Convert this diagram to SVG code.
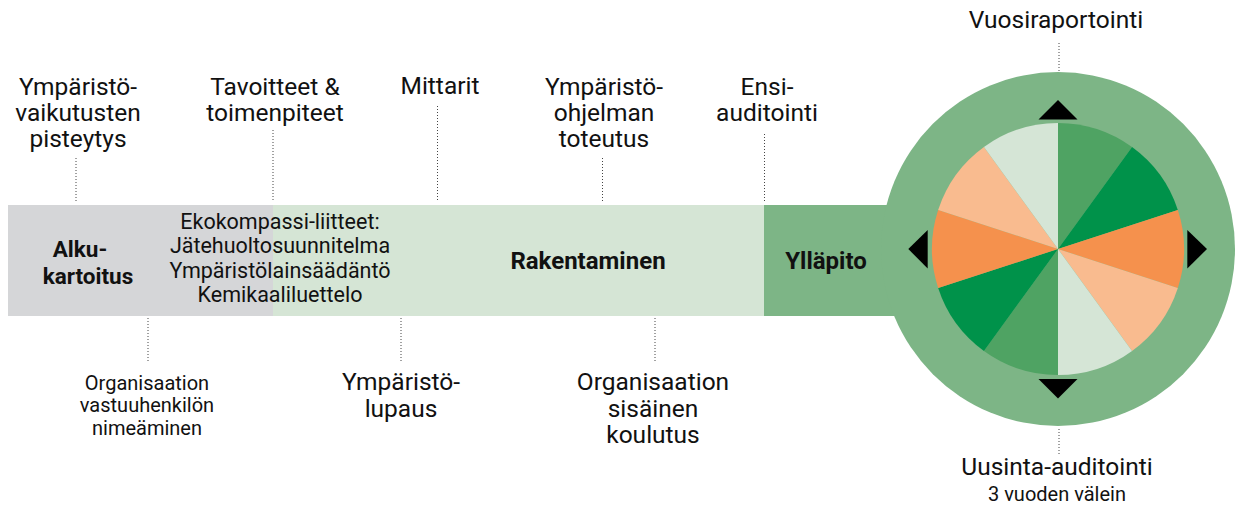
<svg xmlns="http://www.w3.org/2000/svg" width="1241" height="506" viewBox="0 0 1241 506">
<style>
text{font-family:Roboto,"Liberation Sans",Arial,sans-serif;fill:#111;text-anchor:middle}
.lbl{font-size:24.5px}
.sm{font-size:20px}
.eko{font-size:21.5px}
.b{font-size:24px;font-weight:700}
.ba{font-size:22.5px;font-weight:700}
.dot{stroke:#444;stroke-width:1;stroke-dasharray:1 2;fill:none}
.tri{fill:#000}
.g1{fill:#4fa363}.g2{fill:#00924a}.o1{fill:#f5914d}.o2{fill:#f9bb8f}.p1{fill:#d5e5d6}
</style>
<rect width="1241" height="506" fill="#fff"/>
<g id="phase-yllapito">
<rect x="764" y="205" width="294" height="111" fill="#7db586"/>
<text class="b" x="826" y="269">Ylläpito</text>
</g>
<g id="cycle">
<circle cx="1058" cy="249" r="177" fill="#7db586"/>
<path class="g1" d="M1058 249L1058 123A126 126 0 0 1 1132.06 147.07Z"/>
<path class="g2" d="M1058 249L1132.06 147.07A126 126 0 0 1 1177.84 210.07Z"/>
<path class="o1" d="M1058 249L1177.84 210.07A126 126 0 0 1 1177.84 287.93Z"/>
<path class="o2" d="M1058 249L1177.84 287.93A126 126 0 0 1 1132.06 350.93Z"/>
<path class="p1" d="M1058 249L1132.06 350.93A126 126 0 0 1 1058 375Z"/>
<path class="g1" d="M1058 249L1058 375A126 126 0 0 1 983.94 350.93Z"/>
<path class="g2" d="M1058 249L983.94 350.93A126 126 0 0 1 938.16 287.93Z"/>
<path class="o1" d="M1058 249L938.16 287.93A126 126 0 0 1 938.16 210.07Z"/>
<path class="o2" d="M1058 249L938.16 210.07A126 126 0 0 1 983.94 147.07Z"/>
<path class="p1" d="M1058 249L983.94 147.07A126 126 0 0 1 1058 123Z"/>
<polygon class="tri" points="1038.5,119.5 1077.5,119.5 1058,100"/>
<polygon class="tri" points="1038.5,379 1077.5,379 1058,398.5"/>
<polygon class="tri" points="927.7,230 927.7,268.5 908.3,249"/>
<polygon class="tri" points="1187.3,230 1187.3,268.5 1207,249"/>
</g>
<g id="phase-alkukartoitus">
<rect x="8" y="205" width="265" height="111" fill="#d5d6d8"/>
<text class="ba" x="80" y="257">Alku-</text>
<text class="ba" x="88" y="284">kartoitus</text>
</g>
<g id="phase-rakentaminen">
<rect x="273" y="205" width="491" height="111" fill="#d5e5d5"/>
<text class="b" x="588" y="269">Rakentaminen</text>
</g>
<g id="ekokompassi-liitteet">
<text class="eko" x="280" y="228.5">Ekokompassi-liitteet:</text>
<text class="eko" x="280" y="253">Jätehuoltosuunnitelma</text>
<text class="eko" x="280" y="277.5">Ympäristölainsäädäntö</text>
<text class="eko" x="280" y="302">Kemikaaliluettelo</text>
</g>
<g id="connectors">
<line class="dot" x1="76" y1="158" x2="76" y2="202"/>
<line class="dot" x1="273" y1="130" x2="273" y2="202"/>
<line class="dot" x1="437.5" y1="106" x2="437.5" y2="202"/>
<line class="dot" x1="602.5" y1="158" x2="602.5" y2="202"/>
<line class="dot" x1="764.5" y1="134" x2="764.5" y2="202"/>
<line class="dot" x1="148" y1="318" x2="148" y2="362"/>
<line class="dot" x1="401" y1="318" x2="401" y2="362"/>
<line class="dot" x1="655" y1="318" x2="655" y2="362"/>
<line class="dot" x1="1059" y1="43" x2="1059" y2="71"/>
<line class="dot" x1="1059" y1="429" x2="1059" y2="455"/>
</g>
<g id="label-pisteytys">
<text class="lbl" x="78" y="95">Ympäristö-</text>
<text class="lbl" x="78" y="121">vaikutusten</text>
<text class="lbl" x="78" y="147">pisteytys</text>
</g>
<g id="label-tavoitteet">
<text class="lbl" x="275" y="95">Tavoitteet &amp;</text>
<text class="lbl" x="275" y="121">toimenpiteet</text>
</g>
<g id="label-mittarit">
<text class="lbl" x="440" y="94">Mittarit</text>
</g>
<g id="label-ohjelma">
<text class="lbl" x="604" y="95">Ympäristö-</text>
<text class="lbl" x="604" y="121">ohjelman</text>
<text class="lbl" x="604" y="147">toteutus</text>
</g>
<g id="label-ensiauditointi">
<text class="lbl" x="767" y="95">Ensi-</text>
<text class="lbl" x="767" y="121">auditointi</text>
</g>
<g id="label-vastuuhenkilo">
<text class="sm" x="147" y="390">Organisaation</text>
<text class="sm" x="147" y="412">vastuuhenkilön</text>
<text class="sm" x="147" y="435">nimeäminen</text>
</g>
<g id="label-lupaus">
<text class="lbl" x="401" y="390">Ympäristö-</text>
<text class="lbl" x="401" y="417">lupaus</text>
</g>
<g id="label-koulutus">
<text class="lbl" x="653" y="390">Organisaation</text>
<text class="lbl" x="653" y="417">sisäinen</text>
<text class="lbl" x="653" y="443">koulutus</text>
</g>
<g id="label-vuosiraportointi">
<text class="lbl" x="1056" y="28">Vuosiraportointi</text>
</g>
<g id="label-uusinta">
<text class="lbl" x="1057" y="475">Uusinta-auditointi</text>
<text class="sm" x="1057" y="501">3 vuoden välein</text>
</g>
</svg>
